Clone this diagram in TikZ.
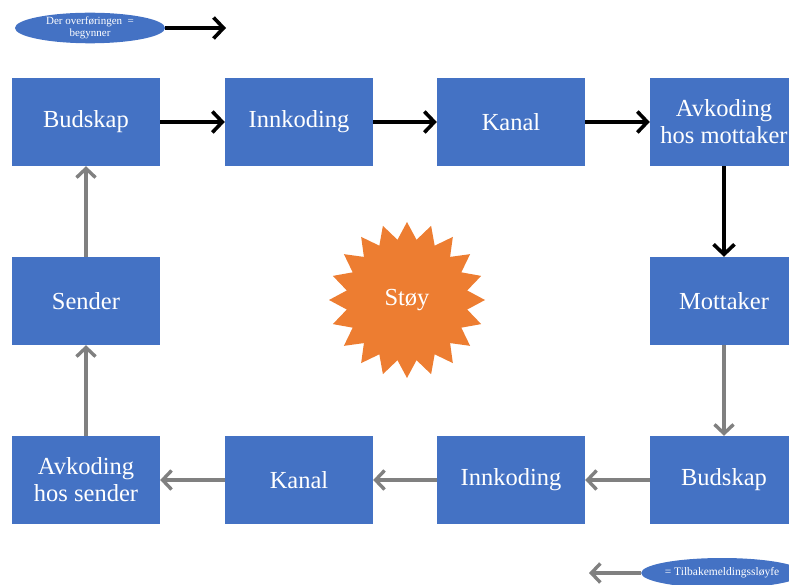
\documentclass[tikz,border=0pt]{standalone}
\usepackage{fontspec}
\setmainfont{Liberation Serif}
\usetikzlibrary{arrows.meta,shapes.geometric}
\definecolor{boxblue}{HTML}{4472C4}
\definecolor{noiseorange}{HTML}{ED7D31}
\definecolor{loopgray}{HTML}{808080}
\begin{document}
\begin{tikzpicture}[x=1pt,y=-1pt,
  block/.style={fill=boxblue,draw=none,minimum width=148pt,minimum height=88pt,
    text=white,align=center,font=\fontsize{24.5}{27}\selectfont,inner sep=0pt},
  legend/.style={ellipse,fill=boxblue,draw=none,text=white,align=center,inner sep=0pt},
  fwd/.style={draw=black,line width=3.6pt,-{Straight Barb[length=10pt,width=21pt,line width=3.6pt]}},
  back/.style={draw=loopgray,line width=3.4pt,-{Straight Barb[length=9pt,width=19pt,line width=3.4pt]}}]
\useasboundingbox (0,0) rectangle (789,585);
\clip (0,0) rectangle (789,585);

% forward path
\node[block] (bud1) at (86,122) {Budskap};
\node[block] (ink1) at (299,122) {Innkoding};
\node[block] (kan1) at (511,122) {Kanal};
\node[block] (avm)  at (724,122) {Avkoding\\hos mottaker};
\node[block] (mot)  at (724,301) {Mottaker};

% feedback path
\node[block] (bud2) at (724,480) {Budskap};
\node[block] (ink2) at (511,480) {Innkoding};
\node[block] (kan2) at (299,480) {Kanal};
\node[block] (avs)  at (86,480) {Avkoding\\hos sender};
\node[block] (snd)  at (86,301) {Sender};

% noise
\node[star,star points=20,star point ratio=1.28,fill=noiseorange,draw=none,
  minimum size=156pt,inner sep=0pt,text=white,font=\fontsize{24.5}{27}\selectfont]
  (noise) at (407,300) {Støy};

\draw[fwd] (bud1) -- (ink1);
\draw[fwd] (ink1) -- (kan1);
\draw[fwd] (kan1) -- (avm);
\draw[fwd] (avm) -- (mot);

\draw[back] (mot) -- (bud2);
\draw[back] (bud2) -- (ink2);
\draw[back] (ink2) -- (kan2);
\draw[back] (kan2) -- (avs);
\draw[back] (avs) -- (snd);
\draw[back] (snd) -- (bud1);

% legend
\node[legend,minimum width=150pt,minimum height=29pt,font=\fontsize{11}{11.5}\selectfont]
  (lgfwd) at (90,28) {Der overføringen\ \ =\\begynner};
\coordinate (lgfwdend) at (226,28);
\draw[fwd] (lgfwd.east) -- (lgfwdend);

\node[legend,minimum width=152pt,minimum height=30pt,font=\fontsize{11.5}{12}\selectfont]
  (lgback) at (722,573) {= Tilbakemeldingssløyfe};
\coordinate (lgbackend) at (589,573);
\draw[back] (lgback.west) -- (lgbackend);
\end{tikzpicture}
\end{document}
